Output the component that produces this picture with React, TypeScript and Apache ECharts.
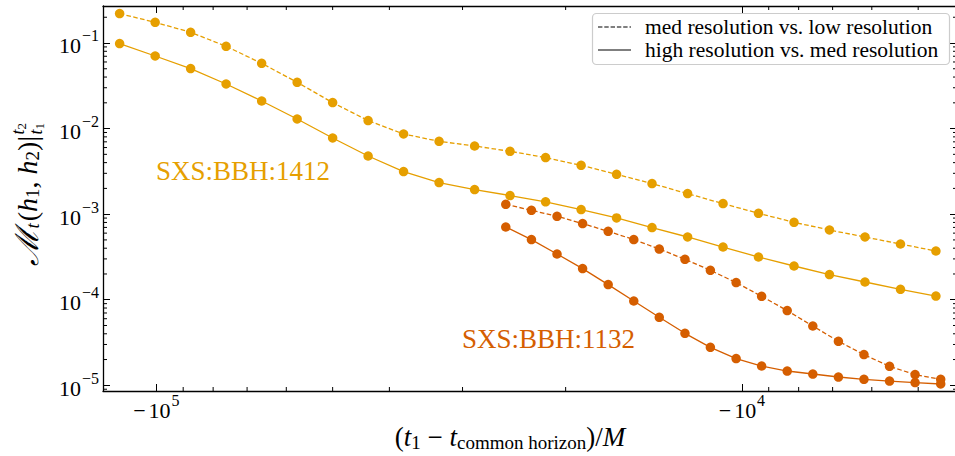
import React, { useEffect, useRef } from 'react';
import * as echarts from 'echarts';

const YELLOW = '#E69F00';
const VERMILION = '#D55E00';
const SERIF = 'Liberation Serif';

// (t1 - t_common horizon)/M
const timesBBH1412 = [-115550, -100480, -87400, -76020, -66100, -57490, -50000, -43490, -37830, -32900, -28610, -24890, -21640, -18820, -16370, -14240, -12380, -10770, -9369, -8147, -7087, -6163, -5360, -4663];
const medVsLow1412 = [0.2206, 0.1745, 0.1334, 0.0915, 0.0579, 0.03473, 0.02011, 0.01239, 0.008643, 0.007102, 0.006257, 0.005425, 0.004579, 0.003723, 0.002922, 0.002275, 0.001738, 0.001328, 0.001023, 0.000803, 0.0006529, 0.0005408, 0.0004479, 0.000371];
const highVsMed1412 = [0.0984, 0.07049, 0.05021, 0.03318, 0.021, 0.01294, 0.007761, 0.004781, 0.003142, 0.002337, 0.001936, 0.001651, 0.001394, 0.00113, 0.000902, 0.0006963, 0.0005408, 0.0004132, 0.0003157, 0.0002478, 0.0001966, 0.0001611, 0.0001324, 0.0001105];

const timesBBH1132 = [-25310, -22880, -20690, -18710, -16920, -15300, -13840, -12510, -11320, -10230, -9254, -8368, -7567, -6842, -6188, -5596, -5061, -4576];
const medVsLow1132 = [1.303e-3, 1.109e-3, 9.438e-4, 7.754e-4, 6.304e-4, 5.042e-4, 3.914e-4, 2.968e-4, 2.207e-4, 1.585e-4, 1.096e-4, 7.463e-5, 4.931e-5, 3.267e-5, 2.284e-5, 1.667e-5, 1.334e-5, 1.175e-5];
const highVsMed1132 = [7.077e-4, 5.042e-4, 3.422e-4, 2.31e-4, 1.502e-4, 9.663e-5, 6.231e-5, 4.051e-5, 2.78e-5, 2.051e-5, 1.681e-5, 1.469e-5, 1.355e-5, 1.25e-5, 1.175e-5, 1.122e-5, 1.075e-5, 1.036e-5];

const xRangeT = [-123360, -4292];
const yRange = [8.58e-6, 0.2706];

const legendLabels = ['med resolution vs. low resolution', 'high resolution vs. med resolution'];
const simLabels = ['SXS:BBH:1412', 'SXS:BBH:1132'];

const xMin = -xRangeT[1];
const xMax = -xRangeT[0];

function minorValues(lo: number, hi: number) {
  const out: number[] = [];
  for (let n = Math.floor(Math.log10(lo)) - 1; n <= Math.ceil(Math.log10(hi)); n++) {
    for (let k = 2; k <= 9; k++) {
      const v = k * Math.pow(10, n);
      if (v > lo && v < hi) out.push(v);
    }
  }
  return out;
}
const minorX = minorValues(xMin, xMax);
const minorY = minorValues(yRange[0], yRange[1]);

const isPow10 = (v: number) => Math.abs(Math.log10(v) - Math.round(Math.log10(v))) < 1e-6;

const labelRich = {
  m: { fontSize: 22, fontFamily: SERIF, color: '#000', padding: [6, 3, 0, 0] },
  b: { fontSize: 22, fontFamily: SERIF, color: '#000', padding: [6, 0, 0, 0] },
  s: { fontSize: 16, fontFamily: SERIF, color: '#000', padding: [0, 0, 14, 1] },
};

function lineSeries(times: number[], vals: number[], color: string, dashed: boolean) {
  return {
    type: 'line',
    xAxisIndex: 0,
    yAxisIndex: 0,
    data: times.map((t, i) => [-t, vals[i]]),
    symbol: 'circle',
    symbolSize: 9.5,
    showSymbol: true,
    lineStyle: { color, width: 1.3, type: dashed ? [4.6, 2.4] : 'solid' },
    itemStyle: { color },
    z: 3,
  };
}

function baseX(extra: any) {
  return {
    type: 'log',
    min: xMin,
    max: xMax,
    inverse: true,
    axisLine: { show: true, onZero: false, lineStyle: { color: '#000', width: 1.3 } },
    axisTick: { show: true, inside: true, length: 7, lineStyle: { color: '#000', width: 1 } },
    splitLine: { show: false },
    ...extra,
  };
}
function baseY(extra: any) {
  return {
    type: 'log',
    min: yRange[0],
    max: yRange[1],
    axisLine: { show: true, onZero: false, lineStyle: { color: '#000', width: 1.3 } },
    axisTick: { show: true, inside: true, length: 7, lineStyle: { color: '#000', width: 1 } },
    splitLine: { show: false },
    ...extra,
  };
}

const option: any = {
  animation: false,
  backgroundColor: '#fff',
  textStyle: { fontFamily: SERIF },
  grid: { left: 103, top: 6, width: 854, height: 385, outerBoundsMode: 'none', containLabel: false },
  xAxis: [
    baseX({
      position: 'bottom',
      axisLabel: {
        show: true,
        margin: 1,
        fontFamily: SERIF,
        formatter: (v: number) => (isPow10(v) ? `{m|−}{b|10}{s|${Math.round(Math.log10(v))}}` : ''),
        rich: labelRich,
      },
    }),
    baseX({ position: 'top', axisLabel: { show: false } }),
  ],
  yAxis: [
    baseY({
      position: 'left',
      axisLabel: {
        show: true,
        margin: 4,
        fontFamily: SERIF,
        formatter: (v: number) => (isPow10(v) ? `{b|10}{s|−${-Math.round(Math.log10(v))}}` : ''),
        rich: labelRich,
      },
    }),
    baseY({
      position: 'right',
      axisLine: { show: false, onZero: false },
      axisLabel: { show: false },
    }),
  ],
  series: [
    lineSeries(timesBBH1412, medVsLow1412, YELLOW, true),
    lineSeries(timesBBH1412, highVsMed1412, YELLOW, false),
    lineSeries(timesBBH1132, medVsLow1132, VERMILION, true),
    lineSeries(timesBBH1132, highVsMed1132, VERMILION, false),
    {
      type: 'custom',
      coordinateSystem: 'cartesian2d',
      xAxisIndex: 0,
      yAxisIndex: 0,
      silent: true,
      clip: false,
      z: 5,
      data: [[10000, 1e-3]],
      renderItem: (params: any, api: any) => {
        const cs = params.coordSys;
        const st = { stroke: '#000', lineWidth: 1 };
        const L = 4;
        const children: any[] = [];
        minorX.forEach((v) => {
          const px = api.coord([v, 1e-3])[0];
          children.push({ type: 'line', shape: { x1: px, y1: cs.y + cs.height, x2: px, y2: cs.y + cs.height - L }, style: st });
          children.push({ type: 'line', shape: { x1: px, y1: cs.y, x2: px, y2: cs.y + L }, style: st });
        });
        minorY.forEach((v) => {
          const py = api.coord([10000, v])[1];
          children.push({ type: 'line', shape: { x1: cs.x, y1: py, x2: cs.x + L, y2: py }, style: st });
          children.push({ type: 'line', shape: { x1: cs.x + cs.width, y1: py, x2: cs.x + cs.width - L, y2: py }, style: st });
        });
        return { type: 'group', children };
      },
    },
  ],
  graphic: [
    // legend
    {
      type: 'rect',
      shape: { x: 592.5, y: 13.5, width: 357, height: 51, r: 4 },
      style: { fill: 'rgba(255,255,255,0.85)', stroke: '#cccccc', lineWidth: 1.2 },
      z: 10,
    },
    {
      type: 'line',
      shape: { x1: 598, y1: 27, x2: 631, y2: 27 },
      style: { stroke: '#000', lineWidth: 1.2, lineDash: [4.4, 1.9] },
      z: 11,
    },
    {
      type: 'line',
      shape: { x1: 598, y1: 50, x2: 631, y2: 50 },
      style: { stroke: '#000', lineWidth: 1.2 },
      z: 11,
    },
    {
      type: 'text',
      x: 645,
      y: 27,
      style: { text: legendLabels[0], fontSize: 21.5, fontFamily: SERIF, fill: '#000', verticalAlign: 'middle' },
      z: 11,
    },
    {
      type: 'text',
      x: 645,
      y: 50,
      style: { text: legendLabels[1], fontSize: 21.5, fontFamily: SERIF, fill: '#000', verticalAlign: 'middle' },
      z: 11,
    },
    // simulation labels
    {
      type: 'text',
      x: 156,
      y: 171,
      style: { text: simLabels[0], fontSize: 27, fontFamily: SERIF, fill: YELLOW, verticalAlign: 'middle' },
      z: 9,
    },
    {
      type: 'text',
      x: 462,
      y: 339,
      style: { text: simLabels[1], fontSize: 27, fontFamily: SERIF, fill: VERMILION, verticalAlign: 'middle' },
      z: 9,
    },
    // x axis title
    {
      type: 'text',
      x: 510,
      y: 437,
      style: {
        text: '{n|(}{i|t}{s|1}{n| − }{i|t}{s|common horizon}{n|)/}{i|M}',
        align: 'center',
        verticalAlign: 'middle',
        fontFamily: SERIF,
        rich: {
          n: { fontSize: 27, fontFamily: SERIF, color: '#000' },
          i: { fontSize: 27, fontFamily: SERIF, fontStyle: 'italic', color: '#000' },
          s: { fontSize: 19, fontFamily: SERIF, color: '#000', padding: [11, 0, 0, 0] },
        },
      },
    },
    // y axis title
    {
      type: 'group',
      x: 27,
      y: 136,
      rotation: Math.PI / 2,
      children: [
        {
          type: 'text',
          x: 0,
          y: 0,
          style: {
            text: '{c|ℳ}{si|t}{n|(}{i|h}{s|1}{n|, }{i|h}{s|2}{n|)|}',
            align: 'right',
            verticalAlign: 'middle',
            fontFamily: SERIF,
            rich: {
              c: { fontSize: 32, fontFamily: SERIF, fontStyle: 'italic', color: '#000' },
              n: { fontSize: 28, fontFamily: SERIF, color: '#000' },
              i: { fontSize: 28, fontFamily: SERIF, fontStyle: 'italic', color: '#000' },
              si: { fontSize: 19, fontFamily: SERIF, fontStyle: 'italic', color: '#000', padding: [11, 2, 0, 0] },
              s: { fontSize: 19, fontFamily: SERIF, color: '#000', padding: [11, 0, 0, 0] },
            },
          },
        },
        {
          type: 'text',
          x: 1.5,
          y: -9,
          style: {
            text: '{i|t}{s|2}',
            align: 'left',
            verticalAlign: 'middle',
            fontFamily: SERIF,
            rich: {
              i: { fontSize: 18, fontFamily: SERIF, fontStyle: 'italic', color: '#000' },
              s: { fontSize: 13, fontFamily: SERIF, color: '#000', padding: [6, 0, 0, 0] },
            },
          },
        },
        {
          type: 'text',
          x: 1.5,
          y: 9,
          style: {
            text: '{i|t}{s|1}',
            align: 'left',
            verticalAlign: 'middle',
            fontFamily: SERIF,
            rich: {
              i: { fontSize: 18, fontFamily: SERIF, fontStyle: 'italic', color: '#000' },
              s: { fontSize: 13, fontFamily: SERIF, color: '#000', padding: [6, 0, 0, 0] },
            },
          },
        },
      ],
    },
  ],
};

export default function App() {
  const ref = useRef<HTMLDivElement>(null);
  useEffect(() => {
    const chart = echarts.init(ref.current!, null, { renderer: 'svg' });
    chart.setOption(option);
    return () => chart.dispose();
  }, []);
  return (
    <div
      ref={ref}
      style={{ position: 'absolute', left: 0, top: 0, width: 955, height: 456, background: '#fff' }}
    />
  );
}
